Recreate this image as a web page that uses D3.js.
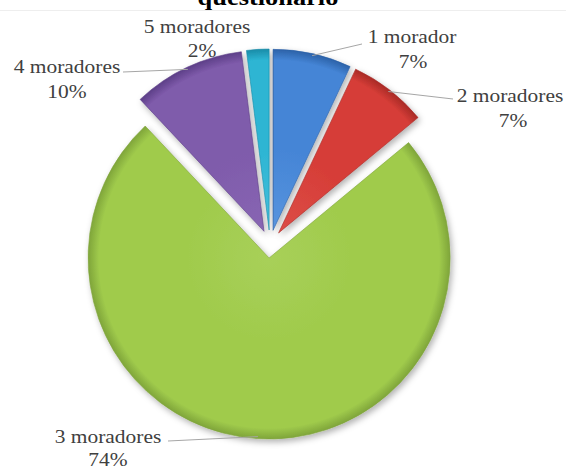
<!DOCTYPE html>
<html>
<head>
<meta charset="utf-8">
<script src="https://cdn.jsdelivr.net/npm/d3@7"></script>
<style>
  body { margin: 0; background: #fff; }
  svg { display: block; }
  .lbl { font-family: "Liberation Serif", "Times New Roman", Times, serif; font-size: 19.5px; fill: #404040; }
  .title { font-family: "Liberation Serif", "Times New Roman", Times, serif; font-size: 24px; font-weight: bold; fill: #000; }
</style>
</head>
<body>
<svg width="566" height="468"></svg>
<script>
// data
var categories = ["1 morador", "2 moradores", "3 moradores", "4 moradores", "5 moradores"];
var values = [7, 7, 74, 10, 2];
var pctLabels = ["7%", "7%", "74%", "10%", "2%"];

// look
var baseColors = ["#4585d6", "#d63d37", "#a0cb4c", "#7f5bab", "#2db5d3"];
var lightColors = ["#5894de", "#dc4d47", "#a8d059", "#8866b3", "#44bfdb"];
var darkColors = ["#2c62a8", "#a82a26", "#7fa53a", "#5d3f88", "#1a8ca8"];
// label anchors: [x, baseline] of the name, [x, baseline] of the percent, leader end
var labelPos = [
  { name: [412, 43], pct: [413, 68], lead: [362, 44] },
  { name: [510, 102], pct: [513, 127], lead: [453, 99] },
  { name: [108, 443], pct: [108, 466], lead: [168, 441] },
  { name: [67, 73], pct: [67, 98], lead: [123, 72] },
  { name: [197, 33], pct: [202, 57], lead: null }
];

var svg = d3.select("svg");
var cx = 270, cy = 244;
var radius = 181;
var explode = 14;

var defs = svg.append("defs");
defs.append("filter")
  .attr("id", "shadow")
  .attr("x", "-20%").attr("y", "-20%")
  .attr("width", "140%").attr("height", "140%")
  .append("feDropShadow")
  .attr("dx", 2).attr("dy", 3)
  .attr("stdDeviation", 3)
  .attr("flood-color", "#000")
  .attr("flood-opacity", 0.3);

// faint plot border line under the title
svg.append("line")
  .attr("x1", 0).attr("x2", 566)
  .attr("y1", 10.5).attr("y2", 10.5)
  .attr("stroke", "#eeeeee");

svg.append("text")
  .attr("class", "title")
  .attr("text-anchor", "middle")
  .attr("transform", "translate(268,5) scale(1.1,1)")
  .text("questionário");

var pie = d3.pie().sort(null).value(function(d) { return d; });
var arcs = pie(values);
var arc = d3.arc().innerRadius(0).outerRadius(radius);

function offsetOf(d) {
  var mid = (d.startAngle + d.endAngle) / 2;
  return [cx + explode * Math.sin(mid), cy - explode * Math.cos(mid)];
}

// gradient in each slice's own (translated) space, so centred on 0,0
arcs.forEach(function(d, i) {
  var g = defs.append("radialGradient")
    .attr("id", "grad" + i)
    .attr("gradientUnits", "userSpaceOnUse")
    .attr("cx", 0).attr("cy", 0)
    .attr("r", radius);
  g.append("stop").attr("offset", "0%").attr("stop-color", lightColors[i]);
  g.append("stop").attr("offset", "45%").attr("stop-color", baseColors[i]);
  g.append("stop").attr("offset", "94%").attr("stop-color", baseColors[i]);
  g.append("stop").attr("offset", "100%").attr("stop-color", darkColors[i]);
});

var slices = svg.append("g");
slices.selectAll("path")
  .data(arcs)
  .enter().append("path")
  .attr("transform", function(d) {
    var o = offsetOf(d);
    return "translate(" + o[0] + "," + o[1] + ")";
  })
  .attr("d", arc)
  .attr("fill", function(d, i) { return "url(#grad" + i + ")"; })
  .attr("stroke", function(d, i) { return darkColors[i]; })
  .attr("stroke-width", 0.6)
  .attr("filter", "url(#shadow)");

// leader lines
var leaders = svg.append("g");
arcs.forEach(function(d, i) {
  if (!labelPos[i].lead) return;
  var o = offsetOf(d);
  var mid = (d.startAngle + d.endAngle) / 2;
  var p = [o[0] + (radius - 2) * Math.sin(mid), o[1] - (radius - 2) * Math.cos(mid)];
  leaders.append("line")
    .attr("x1", p[0]).attr("y1", p[1])
    .attr("x2", labelPos[i].lead[0]).attr("y2", labelPos[i].lead[1])
    .attr("stroke", "#a6a6a6")
    .attr("stroke-width", 1);
});

var labels = svg.append("g");
categories.forEach(function(c, i) {
  var lp = labelPos[i];
  labels.append("text")
    .attr("class", "lbl")
    .attr("text-anchor", "middle")
    .attr("transform", "translate(" + lp.name[0] + "," + lp.name[1] + ") scale(1.1,1)")
    .text(c);
  labels.append("text")
    .attr("class", "lbl")
    .attr("text-anchor", "middle")
    .attr("transform", "translate(" + lp.pct[0] + "," + lp.pct[1] + ") scale(1.1,1)")
    .text(pctLabels[i]);
});
</script>
</body>
</html>
